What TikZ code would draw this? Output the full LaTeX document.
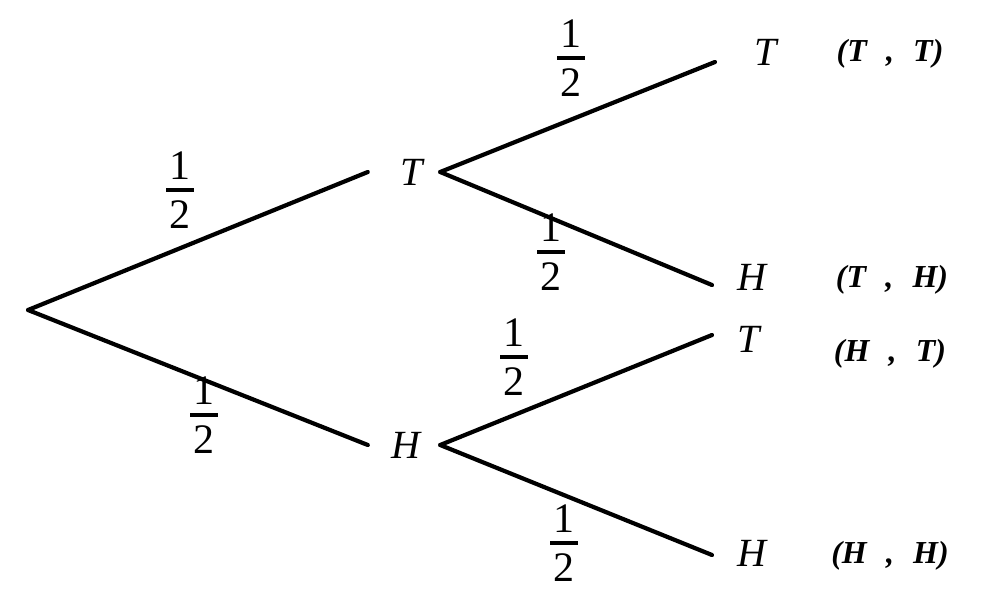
\documentclass[tikz,border=0pt]{standalone}
\usepackage{fontspec}
\setmainfont{Liberation Serif}
\newcommand\halffrac{\vbox{\offinterlineskip\halign{\hfil##\hfil\cr 1\cr\noalign{\kern9pt}\rule{28pt}{3.5pt}\cr\noalign{\kern9pt}2\cr}}}
\newcommand\pairlab[2]{(#1\hspace{0.6em},\hspace{0.6em}#2)}
\tikzset{
  branch/.style={line width=4.2pt, line cap=round},
  midlab/.style={font=\fontsize{40}{40}\selectfont\itshape, minimum width=72pt, inner sep=0pt},
  leaflab/.style={font=\fontsize{40}{40}\selectfont\itshape, inner sep=0pt},
  pairtext/.style={font=\fontsize{32}{32}\selectfont\bfseries\itshape, inner sep=0pt},
  fraclab/.style={font=\fontsize{42}{42}\selectfont, inner sep=0pt}
}
\begin{document}
\begin{tikzpicture}[x=1pt, y=-1pt]
\useasboundingbox (0,0) rectangle (983,591);
% junctions
\coordinate (root) at (28,310);
\node[midlab] (T1) at (404,172) {\hspace{16pt}T};
\node[midlab] (H1) at (404,445) {\hspace{4pt}H};
\coordinate (eTT) at (715,62);
\coordinate (eTH) at (712,285);
\coordinate (eHT) at (712,335);
\coordinate (eHH) at (712,555);
% branches
\draw[branch] (root) -- (T1.west);
\draw[branch] (root) -- (H1.west);
\draw[branch] (T1.east) -- (eTT);
\draw[branch] (T1.east) -- (eTH);
\draw[branch] (H1.east) -- (eHT);
\draw[branch] (H1.east) -- (eHH);
% leaf labels
\node[leaflab] (lTT) at (766,52) {T};
\node[leaflab] (lTH) at (752,277) {H};
\node[leaflab] (lHT) at (749,339) {T};
\node[leaflab] (lHH) at (752,553) {H};
% outcome pairs
\node[pairtext] (pTT) at (890,54) {\pairlab{T}{T}};
\node[pairtext] (pTH) at (892,280) {\pairlab{T}{H}};
\node[pairtext] (pHT) at (890,354) {\pairlab{H}{T}};
\node[pairtext] (pHH) at (890,556) {\pairlab{H}{H}};
% probabilities
\node[fraclab] (f1) at (180,190) {\halffrac};
\node[fraclab] (f2) at (204,415) {\halffrac};
\node[fraclab] (f3) at (571,58) {\halffrac};
\node[fraclab] (f4) at (551,252) {\halffrac};
\node[fraclab] (f5) at (514,357) {\halffrac};
\node[fraclab] (f6) at (564,543) {\halffrac};
\end{tikzpicture}
\end{document}
